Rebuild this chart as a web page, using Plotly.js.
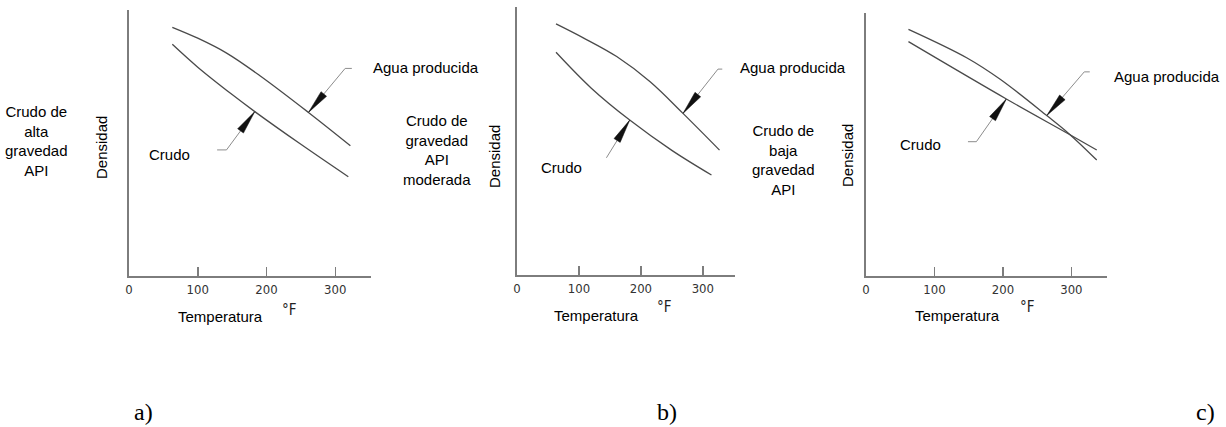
<!DOCTYPE html>
<html>
<head>
<meta charset="utf-8">
<script src="https://cdn.plot.ly/plotly-3.0.1.min.js"></script>
<style>html,body{margin:0;padding:0;background:#fff;}#chart{width:1226px;height:427px;}</style>
</head>
<body>
<div id="chart"></div>
<script>
// ---------- data ----------
// a) Crudo de alta gravedad API
const tempAltaAgua   = [63, 100, 142, 191, 261, 322];
const densAltaAgua   = [93.5, 89.4, 83.8, 75.2, 61.5, 49.0];
const tempAltaCrudo  = [63, 100, 150, 183, 250, 319];
const densAltaCrudo  = [87.1, 78.5, 68.2, 61.8, 49.5, 37.3];
// b) Crudo de gravedad API moderada
const tempModAgua    = [63, 107, 161, 215, 268, 327];
const densModAgua    = [93.7, 88.5, 81.5, 72.1, 60.3, 46.6];
const tempModCrudo   = [63, 120, 182, 250, 314];
const densModCrudo   = [83.1, 69.7, 57.8, 46.5, 37.3];
// c) Crudo de baja gravedad API
const tempBajaAgua   = [62, 147, 196, 264, 296, 337];
const densBajaAgua   = [93.8, 83.0, 74.8, 61.0, 54.2, 44.1];
const tempBajaCrudo  = [62, 205, 298, 337];
const densBajaCrudo  = [89.1, 67.3, 53.7, 47.9];

const tickValues = [0, 100, 200, 300];
const tickLabels = ['0', '100', '200', '300'];
const xLabel = 'Temperatura';
const unitLabel = '°F';
const yLabel = 'Densidad';
const seriesAgua = 'Agua producida';
const seriesCrudo = 'Crudo';
const panelTitles = ['Crudo de<br>alta<br>gravedad<br>API', 'Crudo de<br>gravedad<br>API<br>moderada', 'Crudo de<br>baja<br>gravedad<br>API'];
const panelLetters = ['a)', 'b)', 'c)'];

// ---------- layout helpers ----------
const W = 1226, H = 427;
const fx = p => p / W;
const fy = p => 1 - p / H;
const SANS = 'Liberation Sans, Arial, sans-serif';
const NARROW = 'Liberation Sans Narrow, Arial Narrow, DejaVu Sans Condensed, sans-serif';
const SERIF = 'Liberation Serif, Times New Roman, serif';
const curveColor = '#4a4a4a';
const axisColor = '#7d7d7d';
const leaderColor = '#8c8c8c';

const panels = [
  { xs: tempAltaAgua, ys: densAltaAgua, xc: tempAltaCrudo, yc: densAltaCrudo,
    xdom: [129, 371], ydom: [10, 276], aguaIdx: 4, crudoIdx: 3,
    aguaLeader: [[36.7, 44], [43.4, 44]], crudoLeader: [[-28.3, -38.3], [-37.7, -38.3]],
    titlePos: [36, 141], densPos: [102, 148], crudoPos: [147, 155], aguaPos: [371, 68],
    tempPos: [176, 316], unitPos: [280, 310], letterPos: [143, 412] },
  { xs: tempModAgua, ys: densModAgua, xc: tempModCrudo, yc: densModCrudo,
    xdom: [517, 735], ydom: [7, 275], aguaIdx: 4, crudoIdx: 2,
    aguaLeader: [[35, 44.3], [39.3, 44.3]], crudoLeader: [[-23.3, -37.7]],
    titlePos: [437, 149.5], densPos: [495, 157], crudoPos: [539, 167], aguaPos: [738, 68],
    tempPos: [552, 315], unitPos: [655, 307], letterPos: [667, 412] },
  { xs: tempBajaAgua, ys: densBajaAgua, xc: tempBajaCrudo, yc: densBajaCrudo,
    xdom: [866, 1107], ydom: [13, 276], aguaIdx: 3, crudoIdx: 1,
    aguaLeader: [[37.5, 43.7], [43, 43.7]], crudoLeader: [[-30, -42.7], [-38.4, -42.7]],
    titlePos: [783, 159.5], densPos: [848, 156], crudoPos: [898, 145], aguaPos: [1112, 77],
    tempPos: [913, 315], unitPos: [1018, 307], letterPos: [1205, 412] }
];

const traces = [];
const layout = {
  width: W, height: H,
  margin: { l: 0, r: 0, t: 0, b: 0 },
  paper_bgcolor: '#fff', plot_bgcolor: 'rgba(0,0,0,0)',
  showlegend: false,
  annotations: [], shapes: []
};

function arrowHead(dx, dy) {
  const len = Math.hypot(dx, dy), ux = dx / len, uy = dy / len;
  const L = 24, hw = 3.6;
  const nx = -uy, ny = ux;
  const bx = L * ux, by = L * uy;
  return `M0,0 L${(bx + hw * nx).toFixed(2)},${(by + hw * ny).toFixed(2)} L${(bx - hw * nx).toFixed(2)},${(by - hw * ny).toFixed(2)} Z`;
}
function leaderPath(pts) {
  return 'M0,0 ' + pts.map(p => `L${p[0]},${p[1]}`).join(' ');
}

panels.forEach((p, i) => {
  const n = i === 0 ? '' : String(i + 1);
  const xa = 'x' + n, ya = 'y' + n;
  traces.push({ x: p.xs, y: p.ys, xaxis: xa, yaxis: ya, type: 'scatter', mode: 'lines',
    name: seriesAgua, line: { color: curveColor, width: 1.3, shape: 'spline', smoothing: 1 }, hoverinfo: 'skip' });
  traces.push({ x: p.xc, y: p.yc, xaxis: xa, yaxis: ya, type: 'scatter', mode: 'lines',
    name: seriesCrudo, line: { color: curveColor, width: 1.3, shape: 'spline', smoothing: 1 }, hoverinfo: 'skip' });

  layout['xaxis' + n] = {
    domain: [fx(p.xdom[0]), fx(p.xdom[1])], anchor: ya, range: [0, 352],
    showline: true, linecolor: axisColor, linewidth: 2,
    ticks: 'inside', ticklen: 9, tickwidth: 1.5, tickcolor: axisColor,
    tickvals: tickValues, ticktext: tickLabels,
    tickfont: { family: NARROW, size: 13, color: '#333' },
    showgrid: false, zeroline: false, fixedrange: true
  };
  layout['yaxis' + n] = {
    domain: [fy(p.ydom[1]), fy(p.ydom[0])], anchor: xa, range: [0, 100],
    showline: true, linecolor: axisColor, linewidth: 2,
    ticks: '', showticklabels: false, showgrid: false, zeroline: false, fixedrange: true
  };

  const tips = [
    { x: p.xs[p.aguaIdx], y: p.ys[p.aguaIdx], leader: p.aguaLeader },
    { x: p.xc[p.crudoIdx], y: p.yc[p.crudoIdx], leader: p.crudoLeader }
  ];
  tips.forEach(t => {
    layout.shapes.push({ type: 'path', xref: xa, yref: ya, xsizemode: 'pixel', ysizemode: 'pixel',
      xanchor: t.x, yanchor: t.y, path: leaderPath(t.leader),
      line: { color: leaderColor, width: 1 } });
    layout.shapes.push({ type: 'path', xref: xa, yref: ya, xsizemode: 'pixel', ysizemode: 'pixel',
      xanchor: t.x, yanchor: t.y, path: arrowHead(t.leader[0][0], t.leader[0][1]),
      fillcolor: '#111', line: { color: '#111', width: 0.5 } });
  });

  const A = (text, pos, opts) => Object.assign({
    xref: 'paper', yref: 'paper', x: fx(pos[0]), y: fy(pos[1]), text: text,
    showarrow: false, xanchor: 'left', yanchor: 'middle',
    font: { family: SANS, size: 15, color: '#000' }
  }, opts || {});
  layout.annotations.push(A(panelTitles[i], p.titlePos, { xanchor: 'center' }));
  layout.annotations.push(A(yLabel, p.densPos, { xanchor: 'center', textangle: -90 }));
  layout.annotations.push(A(seriesCrudo, p.crudoPos));
  layout.annotations.push(A(seriesAgua, p.aguaPos));
  layout.annotations.push(A(xLabel, p.tempPos));
  layout.annotations.push(A(unitLabel, p.unitPos, { font: { family: NARROW, size: 15, color: '#222' } }));
  layout.annotations.push(A(panelLetters[i], p.letterPos, { xanchor: 'center', font: { family: SERIF, size: 24, color: '#000' } }));
});

Plotly.newPlot('chart', traces, layout, { displayModeBar: false, staticPlot: true });
</script>
</body>
</html>
